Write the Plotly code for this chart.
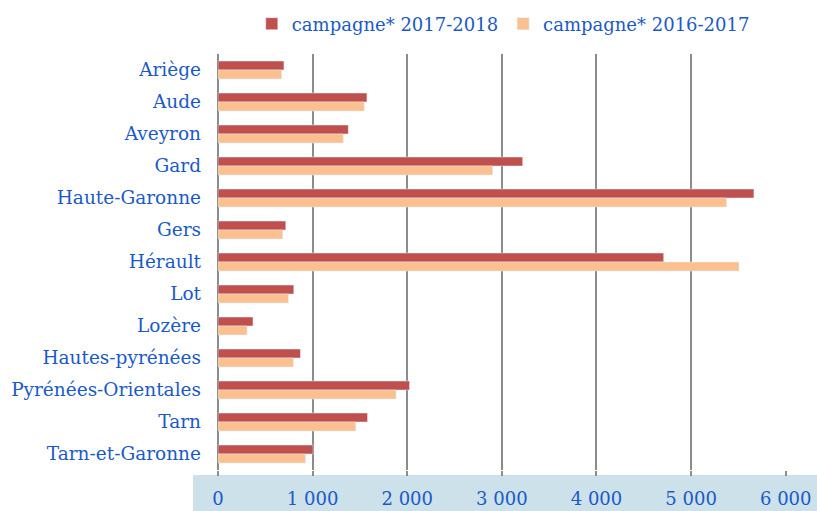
import plotly.graph_objects as go

# Data
departements = ["Ariège", "Aude", "Aveyron", "Gard", "Haute-Garonne", "Gers", "Hérault",
                "Lot", "Lozère", "Hautes-pyrénées", "Pyrénées-Orientales", "Tarn", "Tarn-et-Garonne"]
campagne_2017_2018 = [697, 1574, 1377, 3220, 5664, 716, 4710, 801, 370, 871, 2024, 1580, 1005]
campagne_2016_2017 = [673, 1546, 1324, 2902, 5375, 684, 5506, 744, 307, 797, 1882, 1456, 924]
tick_vals = [0, 1000, 2000, 3000, 4000, 5000, 6000]
tick_text = ["0", "1 000", "2 000", "3 000", "4 000", "5 000", "6 000"]

TEXT_BLUE = "#1a5ac8"
FONT = "DejaVu Serif"

fig = go.Figure()

fig.add_trace(go.Bar(
    y=departements, x=campagne_2017_2018, orientation="h",
    name="campagne* 2017-2018", marker_color="#c0504d",
))
fig.add_trace(go.Bar(
    y=departements, x=campagne_2016_2017, orientation="h",
    name="campagne* 2016-2017", marker_color="#fac08f",
))

# light blue band behind the x tick labels
fig.add_shape(type="rect", xref="paper", yref="paper",
              x0=-0.044, x1=1.06, y0=-0.1, y1=-0.012,
              fillcolor="#cce1e9", line_width=0, layer="below")

fig.update_xaxes(
    range=[0, 6003], automargin=False,
    tickvals=tick_vals, ticktext=tick_text,
    showgrid=True, gridcolor="#8c8c8c", gridwidth=2,
    zeroline=True, zerolinecolor="#8c8c8c", zerolinewidth=2,
    ticks="outside", ticklen=5, tickcolor="#8c8c8c", tickwidth=2,
    ticklabelstandoff=7,
    tickfont=dict(family=FONT, size=18, color=TEXT_BLUE),
)
fig.update_yaxes(
    autorange="reversed", automargin=False,
    showgrid=False,
    ticklabelstandoff=16,
    tickfont=dict(family=FONT, size=18.5, color=TEXT_BLUE),
)

fig.update_layout(
    width=817, height=511,
    margin=dict(l=218, r=31, t=54, b=41),
    barmode="group", bargap=0.44, bargroupgap=0,
    plot_bgcolor="white", paper_bgcolor="white",
    legend=dict(orientation="h", xref="container", yref="container",
                x=0.616, xanchor="center", y=0.953, yanchor="middle",
                font=dict(family=FONT, size=18, color=TEXT_BLUE),
                itemwidth=30, traceorder="normal"),
)

# drop the default page margin so the figure fills the window exactly
fig.write_html("out.html", config={"displayModeBar": False},
               post_script="document.body.style.margin='0';")
